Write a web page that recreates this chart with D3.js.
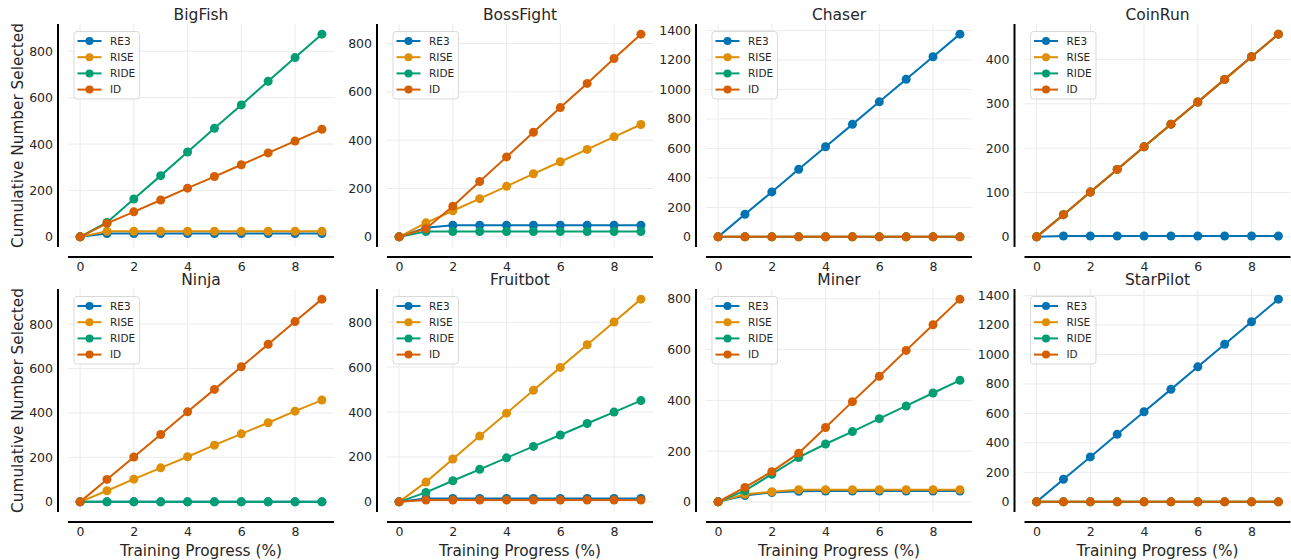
<!DOCTYPE html>
<html>
<head>
<meta charset="utf-8">
<script src="https://cdn.jsdelivr.net/npm/d3@7"></script>
<style>
  body { margin: 0; background: #fff; }
  svg { display: block; font-family: "DejaVu Sans", sans-serif; }
  .tick text { fill: #262626; }
</style>
</head>
<body>
<svg id="chart"></svg>
<script>
// x positions (training progress)
const steps = [0, 1, 2, 3, 4, 5, 6, 7, 8, 9];
const xTicks = [0, 2, 4, 6, 8];
const methods = ["RE3", "RISE", "RIDE", "ID"];
const colors = ["#0173b2", "#de8f05", "#029e73", "#d55e00"];

// values per game, rows in method order: RE3, RISE, RIDE, ID
const bigFish = [
    [0, 14, 14, 14, 14, 14, 14, 14, 14, 14],
    [0, 24, 24, 24, 24, 24, 24, 24, 24, 24],
    [0, 62, 163, 264, 366, 468, 569, 671, 773, 874],
    [0, 58, 108, 159, 210, 260, 311, 362, 413, 464]
];
const bossFight = [
    [0, 38, 48, 48, 48, 48, 48, 48, 48, 48],
    [0, 58, 108, 158, 209, 261, 311, 362, 414, 465],
    [0, 22, 22, 22, 22, 22, 22, 22, 22, 22],
    [0, 34, 127, 229, 331, 433, 535, 635, 738, 839]
];
const chaser = [
    [0, 153, 305, 458, 611, 763, 916, 1069, 1222, 1375],
    [0, 0, 0, 0, 0, 0, 0, 0, 0, 0],
    [0, 0, 0, 0, 0, 0, 0, 0, 0, 0],
    [0, 0, 0, 0, 0, 0, 0, 0, 0, 0]
];
const coinRun = [
    [0, 2, 2, 2, 2, 2, 2, 2, 2, 2],
    [0, 50, 101, 152, 203, 254, 304, 355, 406, 457],
    [0, 50, 101, 152, 203, 254, 304, 355, 406, 457],
    [0, 50, 101, 152, 203, 254, 304, 355, 406, 457]
];
const ninja = [
    [0, 0, 0, 0, 0, 0, 0, 0, 0, 0],
    [0, 50, 102, 153, 203, 255, 306, 356, 408, 458],
    [0, 0, 0, 0, 0, 0, 0, 0, 0, 0],
    [0, 101, 202, 303, 405, 506, 608, 709, 811, 912]
];
const fruitbot = [
    [0, 15, 15, 15, 15, 15, 15, 15, 15, 15],
    [0, 88, 191, 293, 395, 497, 599, 700, 801, 903],
    [0, 42, 94, 145, 196, 247, 298, 349, 400, 451],
    [0, 8, 8, 8, 8, 8, 8, 8, 8, 8]
];
const miner = [
    [0, 25, 37, 42, 43, 43, 43, 43, 43, 43],
    [0, 30, 40, 48, 48, 48, 48, 48, 48, 48],
    [0, 44, 109, 175, 228, 277, 328, 378, 429, 479],
    [0, 57, 119, 192, 293, 395, 495, 597, 698, 799]
];
const starPilot = [
    [0, 153, 305, 458, 611, 763, 916, 1069, 1222, 1375],
    [0, 0, 0, 0, 0, 0, 0, 0, 0, 0],
    [0, 0, 0, 0, 0, 0, 0, 0, 0, 0],
    [0, 0, 0, 0, 0, 0, 0, 0, 0, 0]
];

const yTicks400 = [0, 100, 200, 300, 400];
const yTicks800 = [0, 200, 400, 600, 800];
const yTicks1400 = [0, 200, 400, 600, 800, 1000, 1200, 1400];

const games = [
    { title: "BigFish", values: bigFish, ticks: yTicks800 },
    { title: "BossFight", values: bossFight, ticks: yTicks800 },
    { title: "Chaser", values: chaser, ticks: yTicks1400 },
    { title: "CoinRun", values: coinRun, ticks: yTicks400 },
    { title: "Ninja", values: ninja, ticks: yTicks800 },
    { title: "Fruitbot", values: fruitbot, ticks: yTicks800 },
    { title: "Miner", values: miner, ticks: yTicks800 },
    { title: "StarPilot", values: starPilot, ticks: yTicks1400 }
];

const width = 1291, height = 560;
const panelW = 266, panelH = 223;
const lefts = [68, 387, 706, 1024.5];
const tops = [24, 289];
const offset = 10;
const ink = "#262626";

const svg = d3.select("#chart")
    .attr("width", width)
    .attr("height", height);

games.forEach((game, i) => {
    const col = i % 4, row = Math.floor(i / 4);
    const g = svg.append("g")
        .attr("transform", `translate(${lefts[col]}, ${tops[row]})`);

    // matplotlib-like 5% margins
    const xScale = d3.scaleLinear()
        .domain([-0.45, 9.45])
        .range([0, panelW]);
    const yMax = d3.max(game.values, s => d3.max(s));
    const pad = yMax * 0.05;
    const yScale = d3.scaleLinear()
        .domain([-pad, yMax + pad])
        .range([panelH, 0]);

    // grid
    g.append("g")
        .selectAll("line.hgrid")
        .data(game.ticks)
        .join("line")
        .attr("x1", 0).attr("x2", panelW)
        .attr("y1", d => yScale(d)).attr("y2", d => yScale(d))
        .attr("stroke", "#ebebeb").attr("stroke-width", 1);
    g.append("g")
        .selectAll("line.vgrid")
        .data(xTicks)
        .join("line")
        .attr("x1", d => xScale(d)).attr("x2", d => xScale(d))
        .attr("y1", 0).attr("y2", panelH)
        .attr("stroke", "#ebebeb").attr("stroke-width", 1);

    // axes (offset spines)
    const xAxis = d3.axisBottom(xScale).tickValues(xTicks).tickSize(0).tickPadding(5);
    const yAxis = d3.axisLeft(yScale).tickValues(game.ticks)
        .tickFormat(d3.format("d")).tickSize(0).tickPadding(5);

    const xg = g.append("g")
        .attr("transform", `translate(0, ${panelH + offset})`)
        .call(xAxis);
    const yg = g.append("g")
        .attr("transform", `translate(${-offset}, 0)`)
        .call(yAxis);
    [xg, yg].forEach(a => {
        a.select(".domain").remove();
        a.selectAll("text")
            .attr("font-size", "12.5px")
            .attr("font-family", "DejaVu Sans");
    });

    g.append("line")
        .attr("x1", 0).attr("x2", panelW)
        .attr("y1", panelH + offset).attr("y2", panelH + offset)
        .attr("stroke", "#000").attr("stroke-width", 2);
    g.append("line")
        .attr("x1", -offset).attr("x2", -offset)
        .attr("y1", 0).attr("y2", panelH)
        .attr("stroke", "#000").attr("stroke-width", 2);

    // series
    const line = d3.line()
        .x((d, j) => xScale(steps[j]))
        .y(d => yScale(d));

    game.values.forEach((vals, k) => {
        const sg = g.append("g");
        sg.append("path")
            .datum(vals)
            .attr("d", line)
            .attr("fill", "none")
            .attr("stroke", colors[k])
            .attr("stroke-width", 2);
        sg.selectAll("circle")
            .data(vals)
            .join("circle")
            .attr("cx", (d, j) => xScale(steps[j]))
            .attr("cy", d => yScale(d))
            .attr("r", 4.5)
            .attr("fill", colors[k]);
    });

    // title
    g.append("text")
        .attr("x", panelW / 2)
        .attr("y", -4.5)
        .attr("text-anchor", "middle")
        .attr("font-size", "15.5px")
        .attr("fill", ink)
        .text(game.title);

    // legend
    const lg = g.append("g").attr("transform", "translate(6, 7.5)");
    lg.append("rect")
        .attr("width", 65.5).attr("height", 67.5)
        .attr("rx", 3)
        .attr("fill", "rgba(255,255,255,0.8)")
        .attr("stroke", "#d9d9d9")
        .attr("stroke-width", 1);
    methods.forEach((m, k) => {
        const ly = 9.5 + k * 16.2;
        lg.append("line")
            .attr("x1", 3.5).attr("x2", 27.5)
            .attr("y1", ly).attr("y2", ly)
            .attr("stroke", colors[k]).attr("stroke-width", 2);
        lg.append("circle")
            .attr("cx", 15.5).attr("cy", ly).attr("r", 4)
            .attr("fill", colors[k]);
        lg.append("text")
            .attr("x", 36).attr("y", ly)
            .attr("dy", "0.36em")
            .attr("font-size", "10.5px")
            .attr("fill", ink)
            .text(m);
    });

    // axis labels
    if (row === 1) {
        g.append("text")
            .attr("x", panelW / 2)
            .attr("y", 267)
            .attr("text-anchor", "middle")
            .attr("font-size", "15.3px")
            .attr("fill", ink)
            .text("Training Progress (%)");
    }
    if (col === 0) {
        g.append("text")
            .attr("transform", `translate(-45, ${panelH / 2}) rotate(-90)`)
            .attr("text-anchor", "middle")
            .attr("font-size", "15.3px")
            .attr("fill", ink)
            .text("Cumulative Number Selected");
    }
});
</script>
</body>
</html>
